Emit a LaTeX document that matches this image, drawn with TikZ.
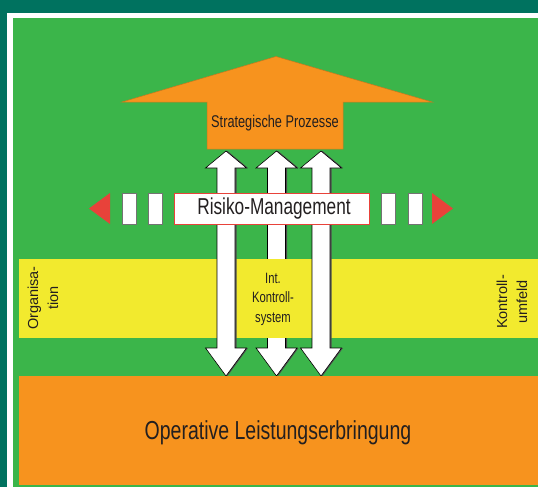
\documentclass[tikz,border=0pt]{standalone}
\usepackage{fontspec}
\setmainfont{Liberation Sans}
\newfontfamily\narrowfont[FakeStretch=0.75]{Liberation Sans}
\usepackage{tikz}
\definecolor{frame}{RGB}{0, 114, 95}
\definecolor{meadow}{RGB}{59, 181, 74}
\definecolor{amber}{RGB}{247, 147, 30}
\definecolor{amberline}{RGB}{200, 120, 30}
\definecolor{lemon}{RGB}{242, 234, 46}
\definecolor{signal}{RGB}{232, 66, 58}
\definecolor{ink}{RGB}{35, 31, 32}
\newcommand*{\shaft}{9}
\newcommand*{\head}{20.5}
\newcommand*{\dblarrow}[1]{(#1, 151) -- (#1 + \head, 168) -- (#1 + \shaft, 168)
  -- (#1 + \shaft, 348) -- (#1 + \head, 348) -- (#1, 376) -- (#1 - \head, 348)
  -- (#1 - \shaft, 348) -- (#1 - \shaft, 168) -- (#1 - \head, 168) -- cycle}

\begin{document}
\begin{tikzpicture}[x=1pt, y=-1pt, thin, text=ink,
    arrowshadow/.style={fill=black!70, xshift=1.5},
    arrowbody/.style={fill=white, draw=black, line width=0.6pt},
    gap/.style={fill=white, draw=black!55, line width=0.8pt}]
  \useasboundingbox (0, 0) rectangle (538, 487);
  \fill [frame] (0, 0) rectangle (538, 487);
  \fill [white] (7, 13.5) rectangle (538, 487);
  \fill [meadow] (12.5, 18.5) rectangle (538, 487);

  % strategic arrow
  \filldraw [fill=amber, draw=amberline, line width=0.5pt] (276, 56.5) -- (432, 102)
    -- (343, 102) -- (343, 149) -- (207, 149) -- (207, 102) -- (122, 102) -- cycle;
  \node[font=\narrowfont\fontsize{17}{20}\selectfont] (strat) at (275, 123) {Strategische Prozesse};

  % middle arrow lies under the band
  \fill [arrowshadow] \dblarrow{276.5};
  \filldraw [arrowbody] \dblarrow{276.5};

  \fill [lemon] (19, 259) rectangle (538, 338);

  \fill [arrowshadow] \dblarrow{226};
  \filldraw [arrowbody] \dblarrow{226};
  \fill [arrowshadow] \dblarrow{321};
  \filldraw [arrowbody] \dblarrow{321};

  % risk row
  \fill [signal] (89, 208.5) -- (110, 193) -- (110, 224) -- cycle;
  \fill [signal] (453, 208.5) -- (432, 193) -- (432, 224) -- cycle;
  \filldraw [gap] (122, 193) rectangle +(14, 31);
  \filldraw [gap] (148, 193) rectangle +(14, 31);
  \filldraw [gap] (381, 193) rectangle +(14, 31);
  \filldraw [gap] (408, 193) rectangle +(14, 31);
  \filldraw [fill=white, draw=signal, line width=0.8pt] (174, 193) rectangle (369, 224);
  \node[font=\narrowfont\fontsize{23}{26}\selectfont] (risk) at (274, 209) {Risiko-Management};

  % band labels
  \node[align=center, font=\narrowfont\fontsize{15}{19.5}\selectfont] (iks) at (273, 299)
    {Int.\\Kontroll-\\system};
  \node[rotate=90, align=center, font=\fontsize{14.5}{20}\selectfont] (org) at (43, 298)
    {Organisa-\\tion};
  \node[rotate=90, align=center, font=\fontsize{14.5}{20}\selectfont] (umf) at (512, 302)
    {Kontroll-\\umfeld};

  % operative base
  \fill [amber] (18.5, 376) rectangle (538, 485);
  \node[text=ink, font=\narrowfont\fontsize{26}{30}\selectfont] (ops) at (278, 433)
    {Operative Leistungserbringung};
\end{tikzpicture}
\end{document}
